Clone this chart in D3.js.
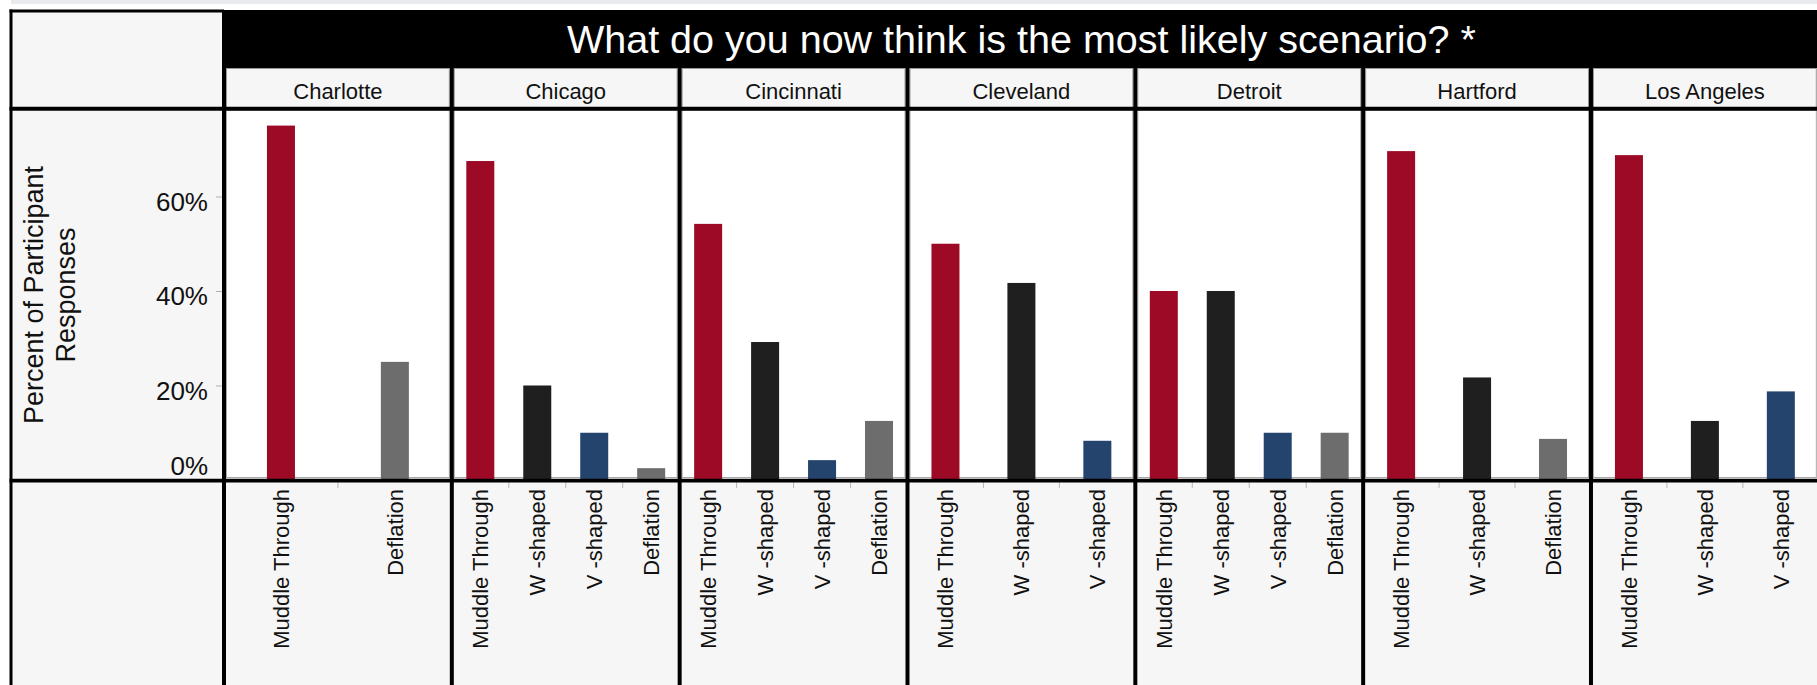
<!DOCTYPE html>
<html>
<head>
<meta charset="utf-8">
<script src="https://cdn.jsdelivr.net/npm/d3@7"></script>
<style>
  html, body { margin: 0; padding: 0; background: #ffffff; }
  svg { display: block; font-family: "Liberation Sans", Arial, Helvetica, sans-serif; }
</style>
</head>
<body>
<svg id="chart" width="1817" height="685"></svg>
<script>
// ---- data -------------------------------------------------------------
const cities = ["Charlotte", "Chicago", "Cincinnati", "Cleveland", "Detroit", "Hartford", "Los Angeles"];
const scenarios = ["Muddle Through", "W -shaped", "V -shaped", "Deflation"];

// percent of participant responses per city (null = scenario not chosen)
const muddleThrough = [75, 67.5, 54.2, 50, 40, 69.6, 68.75];
const wShaped       = [null, 20, 29.2, 41.7, 40, 21.7, 12.5];
const vShaped       = [null, 10, 4.2, 8.3, 10, null, 18.75];
const deflation     = [25, 2.5, 12.5, null, 10, 8.7, null];

const yTicks = [0, 20, 40, 60];
const titleText = "What do you now think is the most likely scenario? *";
const yTitleLines = ["Percent of Participant", "Responses"];
const scenarioColors = ["#9c0a26", "#1f1f1f", "#25446d", "#6d6d6d"];

const seriesValues = [muddleThrough, wShaped, vShaped, deflation];

// ---- layout -------------------------------------------------------------
const W = 1817, H = 685;
const leftEdge = 224, pitch = 227.83;
const titleTop = 10, headerTop = 68, plotTop = 110, plotBottom = 480;
const barWidth = 28;
const headerFill = "#f6f6f6";
const font = '"Liberation Sans", Arial, Helvetica, sans-serif';

const svg = d3.select("#chart");

const panel = d3.scaleBand()
  .domain(cities)
  .range([leftEdge, leftEdge + pitch * cities.length]);

const y = d3.scaleLinear().domain([0, 78.3]).range([plotBottom, plotTop]);
const color = d3.scaleOrdinal().domain(scenarios).range(scenarioColors);

// per-city rows of the scenarios present
const rows = cities.map((city, ci) => ({
  city,
  items: scenarios
    .map((s, si) => ({ scenario: s, value: seriesValues[si][ci] }))
    .filter(d => d.value != null)
}));

// ---- backgrounds -------------------------------------------------------
svg.append("rect").attr("x", 11).attr("y", 0).attr("width", W - 11).attr("height", 4)
  .attr("fill", "#e9eaed");

svg.append("rect").attr("x", 12).attr("y", 12).attr("width", leftEdge - 12).attr("height", H - 12)
  .attr("fill", headerFill);

svg.append("rect").attr("x", leftEdge).attr("y", titleTop)
  .attr("width", W - leftEdge).attr("height", headerTop - titleTop).attr("fill", "#000");

svg.append("rect").attr("x", leftEdge).attr("y", plotBottom)
  .attr("width", W - leftEdge).attr("height", H - plotBottom).attr("fill", headerFill);

// header cells
svg.append("g").selectAll("rect").data(cities).join("rect")
  .attr("x", d => panel(d) + 2.5).attr("y", headerTop + 0.5)
  .attr("width", panel.bandwidth() - 5).attr("height", plotTop - headerTop - 2)
  .attr("fill", headerFill).attr("stroke", "#9a9a9a").attr("stroke-width", 1);

// plot panes
svg.append("g").selectAll("rect").data(cities).join("rect")
  .attr("x", d => panel(d) + 2.5).attr("y", plotTop)
  .attr("width", panel.bandwidth() - 5).attr("height", plotBottom - plotTop - 2.5)
  .attr("fill", "#fff").attr("stroke", "#a8a8a8").attr("stroke-width", 1);

// ---- bars and per-panel category axes -----------------------------------
const panels = svg.append("g").selectAll("g").data(rows).join("g");

panels.each(function (row) {
  const g = d3.select(this);
  const x = d3.scaleBand()
    .domain(row.items.map(d => d.scenario))
    .range([panel(row.city), panel(row.city) + panel.bandwidth()]);

  g.selectAll("rect.bar").data(row.items).join("rect")
    .attr("class", "bar")
    .attr("x", d => x(d.scenario) + x.bandwidth() / 2 - barWidth / 2)
    .attr("y", d => y(d.value))
    .attr("width", barWidth)
    .attr("height", d => y(0) - y(d.value))
    .attr("fill", d => color(d.scenario));

  // small separators between categories
  g.selectAll("line.sep").data(row.items.slice(1)).join("line")
    .attr("class", "sep")
    .attr("x1", d => x(d.scenario)).attr("x2", d => x(d.scenario))
    .attr("y1", plotBottom + 2).attr("y2", plotBottom + 8)
    .attr("stroke", "#b8b8b8").attr("stroke-width", 1);

  const ax = g.append("g").attr("transform", `translate(0,${plotBottom + 2})`)
    .call(d3.axisBottom(x).tickSize(0));
  ax.select(".domain").remove();
  ax.selectAll("text")
    .attr("transform", "rotate(-90)")
    .attr("x", -7).attr("y", 0).attr("dy", "0.36em")
    .attr("text-anchor", "end")
    .attr("font-family", font).attr("font-size", 22).attr("fill", "#111");
});

// ---- y axis --------------------------------------------------------------
const yAxis = svg.append("g").attr("transform", `translate(${leftEdge - 2},0)`)
  .call(d3.axisLeft(y).tickValues(yTicks).tickFormat(d => d + "%").tickSize(6).tickPadding(8));
yAxis.select(".domain").remove();
yAxis.selectAll(".tick line").attr("stroke", "#b0b0b0");
yAxis.selectAll(".tick text")
  .attr("font-family", font).attr("font-size", 26).attr("fill", "#111")
  .attr("dy", d => d === 0 ? "-0.2em" : "0.52em");

svg.append("text")
  .attr("transform", `translate(33,${(plotTop + plotBottom) / 2}) rotate(-90)`)
  .attr("text-anchor", "middle").attr("font-family", font).attr("font-size", 27).attr("fill", "#111")
  .selectAll("tspan").data(yTitleLines).join("tspan")
  .attr("x", 0).attr("dy", (d, i) => i === 0 ? "0.36em" : "1.2em")
  .text(d => d);

// ---- headers -------------------------------------------------------------
svg.append("text")
  .attr("x", (panel.range()[0] + panel.range()[1]) / 2).attr("y", 53)
  .attr("text-anchor", "middle").attr("font-family", font).attr("font-size", 39.5)
  .attr("fill", "#fff").text(titleText);

svg.append("g").selectAll("text").data(cities).join("text")
  .attr("x", d => panel(d) + panel.bandwidth() / 2).attr("y", 98.5)
  .attr("text-anchor", "middle").attr("font-family", font).attr("font-size", 22)
  .attr("fill", "#111").text(d => d);

// ---- black frame rules --------------------------------------------------
const rules = svg.append("g").attr("stroke", "#000");
rules.append("line").attr("x1", 11).attr("x2", 11).attr("y1", 9.5).attr("y2", H).attr("stroke-width", 3);
rules.append("line").attr("x1", 9.5).attr("x2", leftEdge).attr("y1", 11).attr("y2", 11).attr("stroke-width", 3);
rules.selectAll("line.v").data(cities).join("line")
  .attr("class", "v")
  .attr("x1", d => panel(d)).attr("x2", d => panel(d))
  .attr("y1", (d, i) => i === 0 ? titleTop : headerTop).attr("y2", H)
  .attr("stroke-width", 4);
rules.append("line").attr("x1", 9.5).attr("x2", W).attr("y1", 108.8).attr("y2", 108.8).attr("stroke-width", 4);
rules.append("line").attr("x1", 9.5).attr("x2", W).attr("y1", 480.6).attr("y2", 480.6).attr("stroke-width", 3.6);
</script>
</body>
</html>
